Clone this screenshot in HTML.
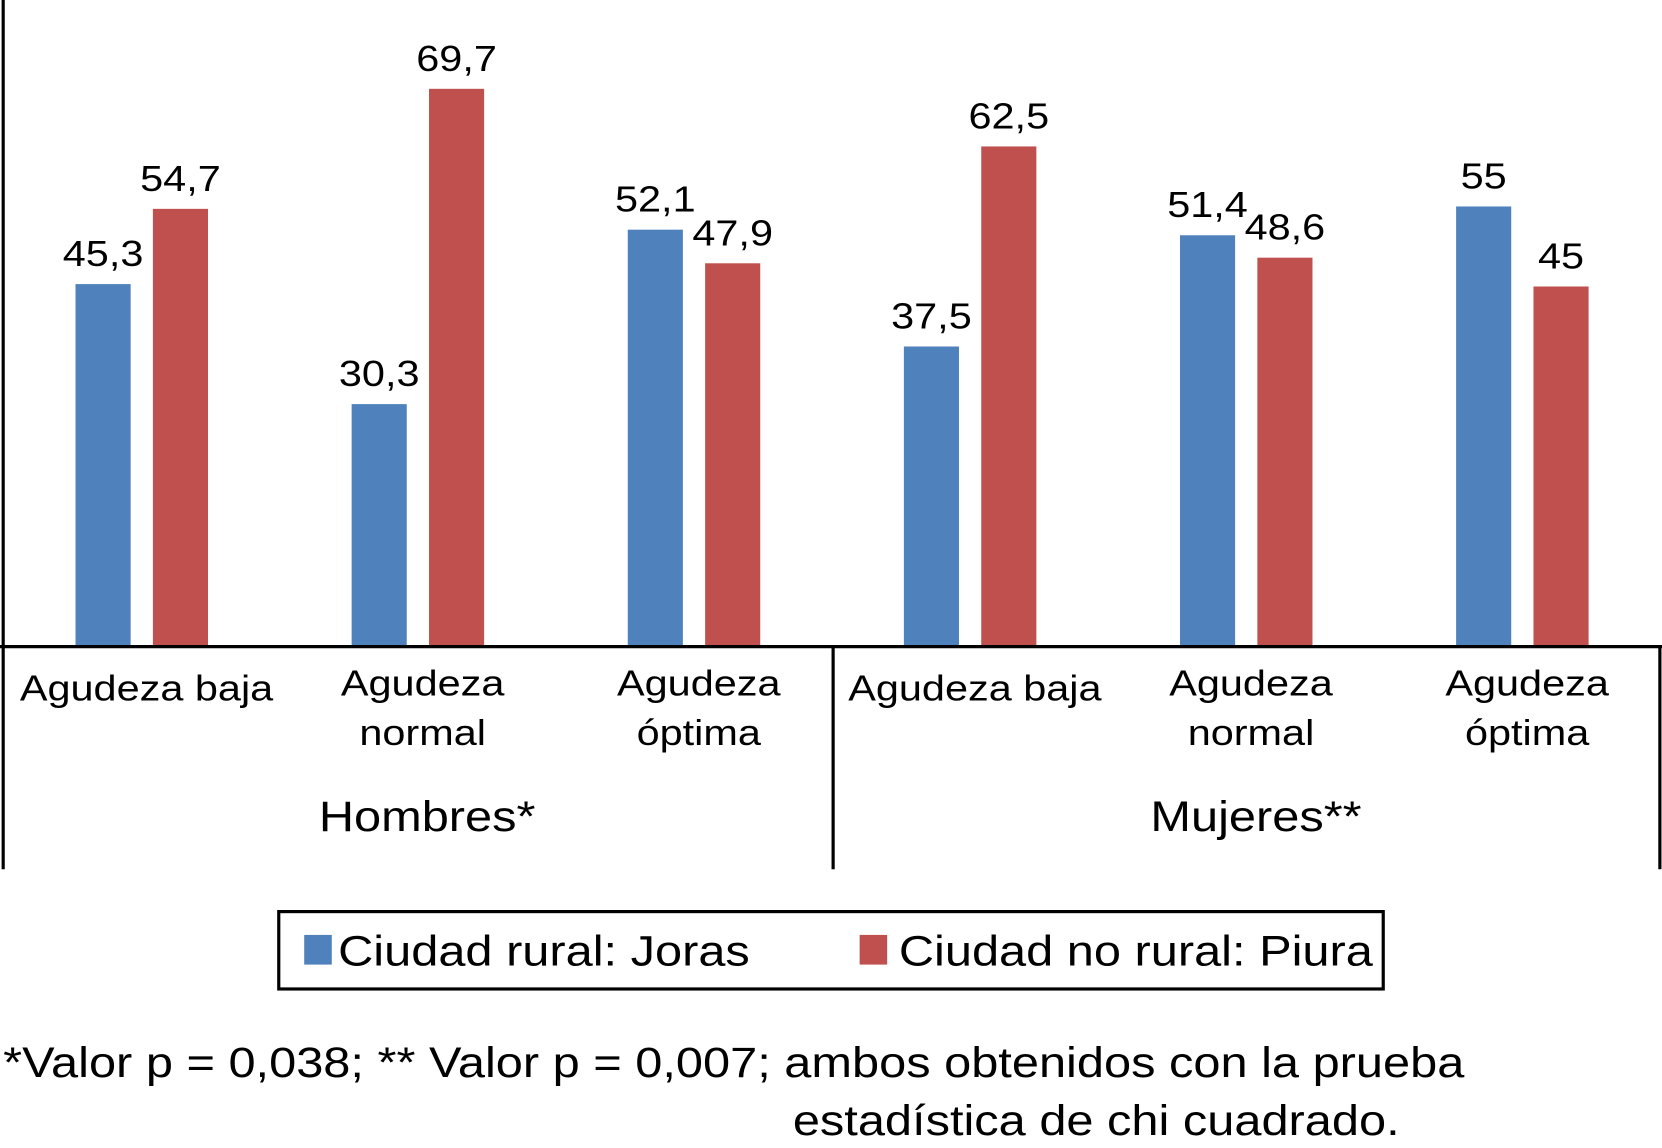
<!DOCTYPE html>
<html><head><meta charset="utf-8"><style>
html,body{margin:0;padding:0;background:#fff}
svg{display:block}
text{font-family:"Liberation Sans",Arial,sans-serif;fill:#000}
</style></head><body>
<svg id="chart" width="1662" height="1148" viewBox="0 0 1568 1083" xmlns="http://www.w3.org/2000/svg">
<g id="bars"></g>
<g id="labels"></g>
<line x1="3" y1="0" x2="3" y2="820" stroke="#000" stroke-width="3"/>
<line x1="0" y1="610" x2="1568" y2="610" stroke="#000" stroke-width="3"/>
<line x1="786" y1="610" x2="786" y2="820" stroke="#000" stroke-width="3"/>
<line x1="1566" y1="610" x2="1566" y2="820" stroke="#000" stroke-width="3"/>
<g id="cats" font-size="34" text-anchor="middle"></g>
<text x="403" y="784" font-size="40" text-anchor="middle">Hombres*</text>
<text x="1185" y="784" font-size="40" text-anchor="middle">Mujeres**</text>
<g>
<rect x="263" y="860" width="1042" height="73" fill="#fff" stroke="#000" stroke-width="3"/>
<rect x="287" y="882" width="26" height="28" fill="#4f81bd"/>
<text x="319" y="911" font-size="40">Ciudad rural: Joras</text>
<rect x="811" y="882" width="26" height="28" fill="#c0504d"/>
<text x="848" y="911" font-size="40">Ciudad no rural: Piura</text>
</g>
<text x="3" y="1016" font-size="40">*Valor p = 0,038; ** Valor  p = 0,007; ambos obtenidos con la prueba</text>
<text x="748" y="1071" font-size="40">estadística de chi cuadrado.</text>
</svg>
<script>
const categories = [["Agudeza baja"],["Agudeza","normal"],["Agudeza","óptima"],["Agudeza baja"],["Agudeza","normal"],["Agudeza","óptima"]];
const ruralValues = [45.3, 30.3, 52.1, 37.5, 51.4, 55];
const noRuralValues = [54.7, 69.7, 47.9, 62.5, 48.6, 45];
const valueLabelsRural = ["45,3","30,3","52,1","37,5","51,4","55"];
const valueLabelsNoRural = ["54,7","69,7","47,9","62,5","48,6","45"];

const NS = "http://www.w3.org/2000/svg";
const left = 3, right = 1566, base = 610, pxPerUnit = 7.55;
const band = (right - left) / categories.length;
const y = v => base - v * pxPerUnit;
const xc = i => left + band * (i + 0.5);
const bw = 52;
const bars = document.getElementById('bars');
const labels = document.getElementById('labels');
const cats = document.getElementById('cats');
function mk(tag, attrs){const e=document.createElementNS(NS,tag);for(const k in attrs)e.setAttribute(k,attrs[k]);return e;}
categories.forEach((c, i) => {
  const cx = xc(i);
  const series = [[ruralValues[i], valueLabelsRural[i], "#4f81bd", cx - 62, 'bar-rural'], [noRuralValues[i], valueLabelsNoRural[i], "#c0504d", cx + 11, 'bar-no-rural']];
  series.forEach(s => {
    const r = mk('rect', {x: s[3], y: y(s[0]), width: bw, height: base - y(s[0]), fill: s[2]});
    
    
    bars.appendChild(r);
    const t = mk('text', {x: s[3] + bw / 2, y: y(s[0]) - 17, 'font-size': 34, 'text-anchor': 'middle'});
    t.textContent = s[1];
    
    
    labels.appendChild(t);
  });
  c.forEach((line, j) => {
    const t = mk('text', {x: cx + 5, y: (c.length === 1 ? 661 : 656) + j * 47});
    t.textContent = line;
    
    
    cats.appendChild(t);
  });
});
document.querySelectorAll('#chart text').forEach(t => {
  const w = t.getComputedTextLength();
  t.setAttribute('textLength', (w * 1.15).toFixed(1));
  t.setAttribute('lengthAdjust', 'spacingAndGlyphs');
});
</script>
</body></html>
